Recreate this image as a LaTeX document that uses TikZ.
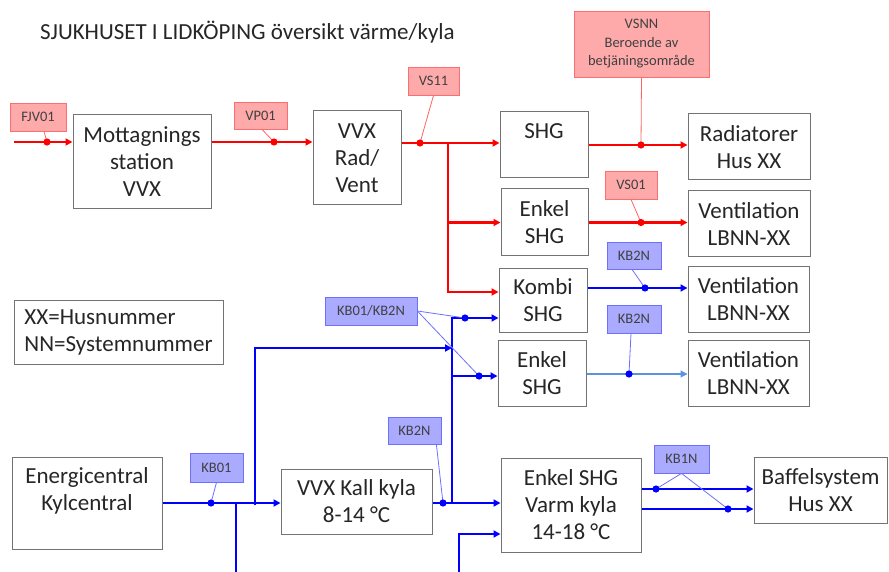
\documentclass[tikz,border=0pt]{standalone}
\usepackage{fontspec}
\setmainfont{Carlito}
\usetikzlibrary{arrows.meta}
\definecolor{pred}{RGB}{255,0,0}
\definecolor{pblue}{RGB}{0,0,255}
\definecolor{lblue}{RGB}{95,145,225}
\definecolor{rfill}{RGB}{255,170,170}
\definecolor{rborder}{RGB}{255,110,110}
\definecolor{bfill}{RGB}{170,170,255}
\definecolor{bborder}{RGB}{110,110,255}
\definecolor{rlead}{RGB}{255,100,100}
\definecolor{blead}{RGB}{110,110,255}
\begin{document}
\begin{tikzpicture}[x=1pt,y=-1pt,
  box/.style={draw=black!55, line width=1pt, fill=white, align=center, inner sep=0pt,
    text=black!85, font=\fontsize{23}{27}\selectfont},
  rlab/.style={draw=rborder, line width=0.8pt, fill=rfill, inner sep=0pt, align=center,
    text=black!75, font=\fontsize{14.5}{18.5}\selectfont},
  blab/.style={draw=bborder, line width=0.8pt, fill=bfill, inner sep=0pt, align=center,
    text=black!75, font=\fontsize{14.5}{18.5}\selectfont},
  tip/.style={-{Triangle[length=7pt,width=7pt]}},
  rl/.style={draw=pred, line width=2.2pt},
  bl/.style={draw=pblue, line width=2.2pt},
  lbl/.style={draw=lblue, line width=1.1pt},
  rlead/.style={draw=rlead, line width=0.8pt},
  blead/.style={draw=blead, line width=0.8pt},
]
\useasboundingbox (0,0) rectangle (889,572);

% title
\node[anchor=west, inner sep=0pt, text=black!85, font=\fontsize{23}{27}\selectfont] (title) at (40,32)
  {SJUKHUSET I LIDKÖPING översikt värme/kyla};

% boxes
\node[box, minimum width=138, minimum height=94] (mott) at (142,162) {Mottagnings\\station\\VVX};
\node[box, minimum width=88, minimum height=94] (vvxrv) at (357,158) {VVX\\Rad/\\Vent};
\node[box, minimum width=88, minimum height=66] (shg) at (544,145) {SHG\\\mbox{}};
\node[box, minimum width=87, minimum height=67] (enkr) at (544.5,222.5) {Enkel\\SHG};
\node[box, minimum width=88, minimum height=64] (kombi) at (543,300) {Kombi\\SHG};
\node[box, minimum width=88, minimum height=66] (enkb) at (542,373) {Enkel\\SHG};
\node[box, minimum width=122, minimum height=66] (rad) at (749,147) {Radiatorer\\Hus XX};
\node[box, minimum width=122, minimum height=66] (vent1) at (749,224) {Ventilation\\LBNN-XX};
\node[box, minimum width=121, minimum height=66] (vent2) at (748.5,299) {Ventilation\\LBNN-XX};
\node[box, minimum width=121, minimum height=66] (vent3) at (748.5,373) {Ventilation\\LBNN-XX};
\node[box, align=left, minimum width=209, minimum height=64] (legend) at (118.5,332) {XX=Husnummer\\NN=Systemnummer};
\node[box, minimum width=150, minimum height=92] (energ) at (87,503) {Energicentral\\Kylcentral\\\mbox{}};
\node[box, minimum width=151, minimum height=65] (kall) at (356.5,501.5) {VVX Kall kyla\\8-14 °C};
\node[box, minimum width=140, minimum height=94] (varm) at (571,505) {Enkel SHG\\Varm kyla\\14-18 °C};
\node[box, minimum width=133, minimum height=66] (baff) at (820.5,490) {Baffelsystem\\Hus XX};

% labels
\node[rlab, minimum width=56, minimum height=28] (fjv) at (38,117) {FJV01};
\node[rlab, minimum width=53, minimum height=27] (vp01) at (260.5,115.5) {VP01};
\node[rlab, minimum width=51, minimum height=28] (vs11) at (433.5,81) {VS11};
\node[rlab, minimum width=135, minimum height=66] (vsnn) at (641.5,44) {VSNN\\Beroende av\\betjäningsområde};
\node[rlab, minimum width=52, minimum height=28] (vs01) at (631,185) {VS01};
\node[blab, minimum width=54, minimum height=27] (kb2na) at (634,255.5) {KB2N};
\node[blab, minimum width=54, minimum height=28] (kb2nb) at (634,319) {KB2N};
\node[blab, minimum width=92, minimum height=28] (kbkb) at (371,311) {KB01/KB2N};
\node[blab, minimum width=53, minimum height=27] (kb2nc) at (414.5,430.5) {KB2N};
\node[blab, minimum width=53, minimum height=29] (kb01) at (216.5,467.5) {KB01};
\node[blab, minimum width=55, minimum height=28] (kb1n) at (681.5,459) {KB1N};

% coordinates
\coordinate (in1) at (14,142);
\coordinate (d1) at (47,142);
\coordinate (d2) at (274,142);
\coordinate (d3) at (420,143);
\coordinate (br) at (448,143);
\coordinate (brk) at (448,292);
\coordinate (d4) at (641,145);
\coordinate (d5) at (641,222.5);
\coordinate (d6) at (645,288);
\coordinate (d7) at (629,374);
\coordinate (bt) at (452,318);
\coordinate (bm) at (452,376);
\coordinate (bj) at (452,503);
\coordinate (d8) at (465,318);
\coordinate (d9) at (479,376);
\coordinate (lj) at (255,503);
\coordinate (le) at (452,348);
\coordinate (d10) at (211,503);
\coordinate (vj) at (236,503);
\coordinate (vb) at (236,572);
\coordinate (d11) at (443,503);
\coordinate (v2s) at (459,572);
\coordinate (v2e) at (459,534);
\coordinate (o1) at (656,489);
\coordinate (o2) at (728,509);

% red lines
\draw[rl, tip] (in1) -- (mott.west |- in1);
\draw[rl, tip] (mott.east |- d2) -- (vvxrv.west |- d2);
\draw[rl, tip] (vvxrv.east |- d3) -- (shg.west |- d3);
\draw[rl, tip] (br) |- (enkr.west);
\draw[rl, tip] (br) -- (brk) -- (kombi.west |- brk);
\draw[rl, tip] (shg.east) -- (rad.west |- shg.east);
\draw[rl, tip] (enkr.east) -- (vent1.west |- enkr.east);

% blue lines
\draw[bl, tip] (kombi.east |- d6) -- (vent2.west |- d6);
\draw[lbl, -{Triangle[length=7pt,width=7pt]}] (enkb.east |- d7) -- (vent3.west |- d7);
\draw[bl, tip] (bj) -- (bt) -- (kombi.west |- bt);
\draw[bl, tip] (bm) -- (enkb.west |- bm);
\draw[bl, tip] ([yshift=-2pt]lj) |- (le);
\draw[bl, tip] (energ.east) -- (kall.west |- energ.east);
\draw[bl] (vj) -- (vb);
\draw[bl, tip] (kall.east |- energ.east) -- (varm.west |- energ.east);
\draw[bl, tip] (v2s) |- (varm.west |- v2e);
\draw[bl, tip] (varm.east |- o1) -- (baff.west |- o1);
\draw[bl, tip] (varm.east |- o2) -- (baff.west |- o2);

% leaders
\draw[rlead] ([xshift=6pt]fjv.south) -- (d1);
\draw[rlead] ([xshift=1.5pt]vp01.south) -- (d2);
\draw[rlead] (vs11.south) -- (d3);
\draw[rlead] (vsnn.south) -- (d4);
\draw[rlead] (vs01.south) -- (d5);
\draw[blead] ([xshift=-2pt]kb2na.south) -- (d6);
\draw[blead] ([xshift=-3pt]kb2nb.south) -- (d7);
\draw[blead] (kbkb.east) -- (d8);
\draw[blead] (kbkb.east) -- (d9);
\draw[blead] ([xshift=-5pt]kb2nc.south east) -- (d11);
\draw[blead] (kb01.south) -- (d10);
\draw[blead] (kb1n.south) -- (o1);
\draw[blead] (kb1n.south) -- (o2);

% dots
\foreach \p in {d1,d2,d3,d4,d5} \fill[pred] (\p) circle (3.6pt);
\foreach \p in {d6,d7,d8,d9,d10,d11,o1,o2} \fill[pblue] (\p) circle (3.6pt);
\end{tikzpicture}
\end{document}
